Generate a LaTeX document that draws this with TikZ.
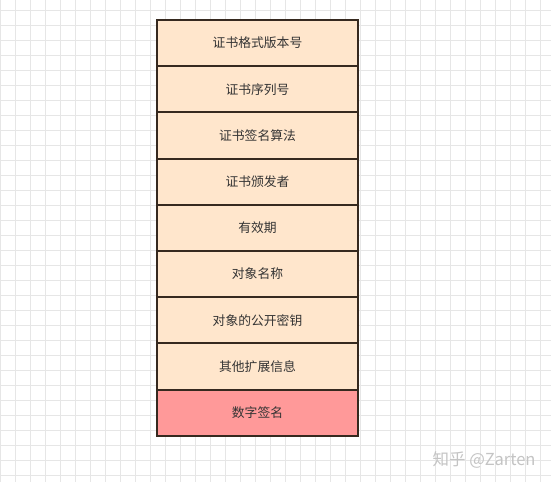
\documentclass[tikz,border=0pt]{standalone}
\usepackage{fontspec}
\usepackage{xcolor}
\usepackage{tikz}
\usetikzlibrary{positioning}
\setmainfont{Noto Sans CJK SC}

\definecolor{gridgray}{HTML}{E6E6E6}
\definecolor{peach}{HTML}{FFE6CC}
\definecolor{rosered}{HTML}{FF9999}
\definecolor{edgebrown}{HTML}{36291F}
\definecolor{textgray}{HTML}{333333}
\definecolor{markgray}{HTML}{C4C4C4}

\tikzset{
	field/.style={draw=edgebrown,line width=2pt,fill=peach,outer sep=0pt,
		minimum width=201pt,minimum height=46.2pt,inner sep=0pt,
		text=textgray,font=\fontsize{12.8}{15}\selectfont},
	signfield/.style={field,fill=rosered}
}

\begin{document}
\begin{tikzpicture}[x=1pt,y=-1pt]
	\useasboundingbox (0,0) rectangle (551,482);
	\fill[white] (0,0) rectangle (551,482);
	% background grid
	\foreach \gx in {0,15,...,550}
		\draw[gridgray,line width=0.8pt] (\gx,0) -- (\gx,482);
	\foreach \gy in {10,25,...,481}
		\draw[gridgray,line width=0.8pt] (0,\gy) -- (551,\gy);
	% certificate fields
	\node[field] (version) at (257.5,43.1) {证书格式版本号};
	\node[field,below=0pt of version] (serial) {证书序列号};
	\node[field,below=0pt of serial] (algo) {证书签名算法};
	\node[field,below=0pt of algo] (issuer) {证书颁发者};
	\node[field,below=0pt of issuer] (validity) {有效期};
	\node[field,below=0pt of validity] (subject) {对象名称};
	\node[field,below=0pt of subject] (pubkey) {对象的公开密钥};
	\node[field,below=0pt of pubkey] (ext) {其他扩展信息};
	\node[signfield,below=0pt of ext] (sign) {数字签名};
	% watermark
	\node[text=markgray,font=\fontsize{16.5}{19}\selectfont,anchor=east] (mark) at (539,460) {知乎 @Zarten};
\end{tikzpicture}
\end{document}
